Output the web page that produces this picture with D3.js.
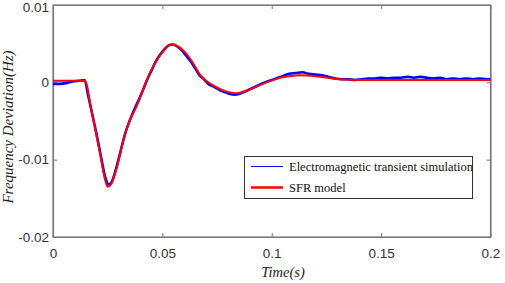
<!DOCTYPE html>
<html><head><meta charset="utf-8">
<script src="https://cdn.jsdelivr.net/npm/d3@7"></script>
<style>html,body{margin:0;padding:0;background:#fff;}svg{display:block;}</style>
</head><body><svg id="c" width="505" height="283"></svg>
<script>
const xTicks = [0, 0.05, 0.1, 0.15, 0.2];
const xTickLabels = ["0", "0.05", "0.1", "0.15", "0.2"];
const yTicks = [0.01, 0, -0.01, -0.02];
const yTickLabels = ["0.01", "0", "-0.01", "-0.02"];
const seriesNames = ["Electromagnetic transient simulation", "SFR model"];
const xTitle = "Time(s)";
const yTitle = "Frequency Deviation(Hz)";

// SFR model (red)
const sfrT = [0, 0.0146, 0.0177, 0.0215, 0.0240, 0.0250, 0.0265, 0.0290, 0.0321, 0.0350, 0.0382, 0.0443, 0.0504, 0.0540, 0.0560, 0.0600, 0.0640, 0.0672, 0.0732, 0.0794, 0.0839, 0.0900, 0.0960, 0.1037, 0.1080, 0.1130, 0.1200, 0.1310, 0.1400, 0.1500, 0.1700, 0.2000];
const sfrV = [0.0002, 0.0002, -0.0038, -0.0092, -0.0128, -0.0135, -0.0132, -0.0112, -0.0076, -0.0050, -0.0031, 0.0012, 0.0040, 0.0049, 0.0048, 0.0040, 0.0025, 0.0010, -0.0004, -0.0012, -0.0014, -0.0009, -0.0002, 0.0006, 0.0008, 0.0009, 0.0008, 0.0004, 0.0003, 0.0003, 0.0003, 0.0003];

// Electromagnetic transient simulation (blue)
const emtT = [0.000, 0.003, 0.006, 0.009, 0.012, 0.0145, 0.016, 0.018, 0.020, 0.022, 0.024, 0.0255, 0.027, 0.029, 0.031, 0.033, 0.035, 0.037, 0.039, 0.041, 0.043, 0.045, 0.047, 0.049, 0.051, 0.053, 0.055, 0.057, 0.059, 0.061, 0.063, 0.065, 0.067, 0.069, 0.071, 0.073, 0.075, 0.077, 0.079, 0.081, 0.083, 0.085, 0.087, 0.090, 0.093, 0.096, 0.099, 0.102, 0.105, 0.108, 0.111, 0.114, 0.117, 0.120, 0.123, 0.126, 0.129, 0.132, 0.135, 0.138, 0.141, 0.144, 0.147, 0.150, 0.153, 0.156, 0.159, 0.162, 0.165, 0.168, 0.171, 0.174, 0.177, 0.180, 0.183, 0.186, 0.189, 0.192, 0.195, 0.198, 0.200];
const emtV = [-0.0002, -0.0002, -0.0001, 0.0001, 0.0002, 0.0003, -0.0016, -0.0042, -0.0068, -0.0097, -0.0124, -0.0132, -0.0128, -0.0110, -0.0088, -0.0066, -0.0050, -0.0036, -0.0024, -0.0011, 0.0003, 0.0015, 0.0027, 0.0036, 0.0043, 0.0048, 0.0049, 0.0046, 0.0041, 0.0034, 0.0027, 0.0018, 0.0009, 0.0004, -0.0002, -0.0005, -0.0008, -0.0011, -0.0013, -0.0015, -0.0016, -0.0015, -0.0013, -0.0009, -0.0005, -0.0001, 0.0002, 0.0005, 0.0008, 0.0011, 0.0012, 0.0013, 0.0011, 0.0010, 0.0009, 0.0007, 0.0005, 0.0004, 0.0004, 0.0003, 0.0004, 0.0005, 0.0005, 0.0006, 0.0005, 0.0006, 0.0006, 0.0007, 0.0006, 0.0007, 0.0006, 0.0005, 0.0006, 0.0004, 0.0005, 0.0004, 0.0005, 0.0004, 0.0005, 0.0004, 0.0004];

const L = 53, R = 490.5, T = 5, B = 237;
const svg = d3.select("#c");
const x = d3.scaleLinear().domain([0, 0.2]).range([L, R]);
const y = d3.scaleLinear().domain([-0.02, 0.01]).range([B, T]);
const axisCol = "#7a7a7a", textCol = "#333";

// frame
svg.append("rect").attr("x", L).attr("y", T).attr("width", R - L).attr("height", B - T)
  .attr("fill", "#fff").attr("stroke", axisCol).attr("stroke-width", 1.2);

// axes
const fmtX = d => xTickLabels[xTicks.indexOf(d)];
const fmtY = d => yTickLabels[yTicks.indexOf(d)];
const gx = svg.append("g").attr("transform", `translate(0,${B})`)
  .call(d3.axisBottom(x).tickValues(xTicks).tickFormat(fmtX).tickSizeInner(-4).tickSizeOuter(0).tickPadding(11));
const gxt = svg.append("g").attr("transform", `translate(0,${T})`)
  .call(d3.axisTop(x).tickValues(xTicks).tickFormat("").tickSizeInner(-4).tickSizeOuter(0));
const gy = svg.append("g").attr("transform", `translate(${L},0)`)
  .call(d3.axisLeft(y).tickValues(yTicks).tickFormat(fmtY).tickSizeInner(-4).tickSizeOuter(0).tickPadding(4));
const gyr = svg.append("g").attr("transform", `translate(${R},0)`)
  .call(d3.axisRight(y).tickValues(yTicks).tickFormat("").tickSizeInner(-4).tickSizeOuter(0));
[gx, gxt, gy, gyr].forEach(g => {
  g.select(".domain").attr("stroke", axisCol).attr("stroke-width", 1.2);
  g.selectAll(".tick line").attr("stroke", axisCol);
  g.selectAll(".tick text").attr("fill", textCol).attr("font-family", "Liberation Sans, Arial, sans-serif").attr("font-size", 13.5);
});
gy.selectAll(".tick text").filter(d => d === yTicks[0]).attr("dy", "0.5em");

// lines
const emt = emtT.map((t, i) => [t, emtV[i]]);
const sfr = sfrT.map((t, i) => [t, sfrV[i]]);
const line = d3.line().x(d => x(d[0])).y(d => y(d[1]));
svg.append("path").datum(emt).attr("fill", "none").attr("stroke", "#0000ff").attr("stroke-width", 2.6)
  .attr("d", line.curve(d3.curveMonotoneX));
svg.append("path").datum(sfr).attr("fill", "none").attr("stroke", "#ff0000").attr("stroke-width", 2)
  .attr("d", line.curve(d3.curveMonotoneX));

// legend
const lg = svg.append("g");
lg.append("rect").attr("x", 244.5).attr("y", 156.5).attr("width", 228).attr("height", 42)
  .attr("fill", "#fff").attr("stroke", "#333").attr("stroke-width", 1);
const rows = [{name: seriesNames[0], col: "#0000ff", w: 1, yy: 166.5}, {name: seriesNames[1], col: "#ff0000", w: 2.5, yy: 187.5}];
rows.forEach(r => {
  lg.append("line").attr("x1", 251).attr("x2", 283).attr("y1", r.yy).attr("y2", r.yy)
    .attr("stroke", r.col).attr("stroke-width", r.w);
  lg.append("text").attr("x", 289).attr("y", r.yy + 4.5).text(r.name)
    .attr("font-family", "Liberation Serif, Times New Roman, serif").attr("font-size", 12.5).attr("fill", "#111");
});

// titles
svg.append("text").attr("x", 283).attr("y", 277).attr("text-anchor", "middle").text(xTitle)
  .attr("font-family", "Liberation Serif, Times New Roman, serif").attr("font-style", "italic").attr("font-size", 14.5).attr("fill", "#222");
svg.append("text").attr("transform", `translate(13,127) rotate(-90)`).attr("text-anchor", "middle").text(yTitle)
  .attr("font-family", "Liberation Serif, Times New Roman, serif").attr("font-style", "italic").attr("font-size", 15).attr("fill", "#222");
</script></body></html>
